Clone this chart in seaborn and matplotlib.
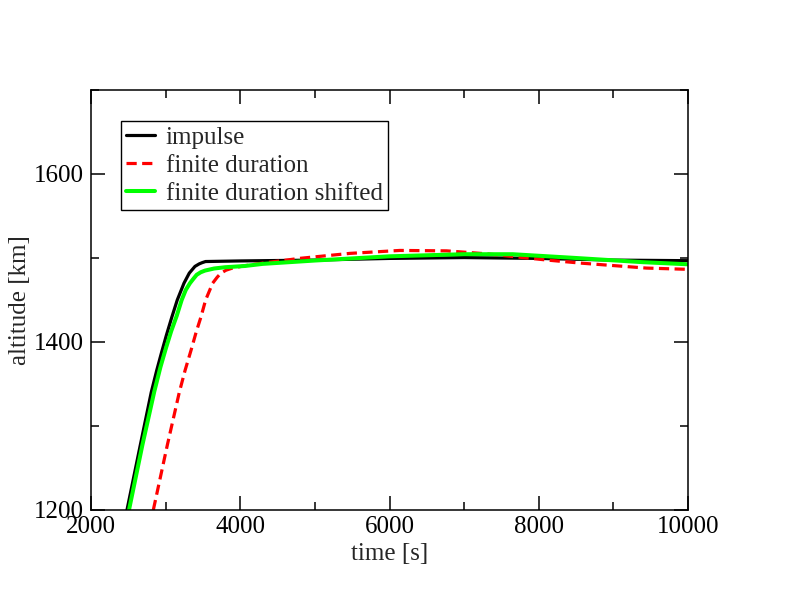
import numpy as np
import pandas as pd
import matplotlib
matplotlib.use("Agg")
import matplotlib.pyplot as plt
import seaborn as sns
from matplotlib.ticker import MultipleLocator

impulse_t = [2482, 2660, 2807, 2880, 2947, 3010, 3081, 3156, 3246, 3317, 3393,
             3450, 3491, 3535, 4000, 5000, 6000, 7000, 8000, 9000, 10000]
impulse_h = [1200, 1277, 1340, 1366, 1388, 1408, 1429, 1450, 1470, 1482, 1490,
             1493, 1494.5, 1495.8, 1496.5, 1497.5, 1499.5, 1500.5, 1499.5, 1497.5, 1496.8]

finite_t = [2835, 3022, 3183, 3260, 3340, 3410, 3474, 3536, 3630, 3690, 3741,
            3810, 3885, 4040, 4304, 4800, 5470, 6139, 6765, 7300, 8105, 8550,
            9444, 10000]
finite_h = [1200, 1277, 1340, 1366, 1390, 1412, 1430, 1450, 1470, 1477, 1482,
            1485.5, 1487.7, 1490.5, 1494, 1499.6, 1505.5, 1509, 1508.5, 1505,
            1497.6, 1494, 1488, 1486.5]

shifted_t = [2509, 2690, 2848, 2930, 3005, 3075, 3148, 3215, 3270, 3326, 3370,
             3416, 3470, 3527, 3650, 3795, 4063, 4300, 5000, 6000, 7000, 7650,
             8500, 9400, 10000]
shifted_h = [1200, 1278, 1341, 1370, 1393, 1413, 1431, 1450, 1462, 1470, 1475,
             1480, 1483, 1485, 1487.5, 1489, 1490.5, 1493, 1497, 1502, 1504.5,
             1504.5, 1500, 1495, 1492.5]

labels = ["impulse", "finite duration", "finite duration shifted"]

df = pd.concat([
    pd.DataFrame({"t": impulse_t, "h": impulse_h, "series": labels[0]}),
    pd.DataFrame({"t": finite_t, "h": finite_h, "series": labels[1]}),
    pd.DataFrame({"t": shifted_t, "h": shifted_h, "series": labels[2]}),
], ignore_index=True)

sns.set_style("ticks")
plt.rcParams["font.family"] = ["Liberation Serif", "DejaVu Serif"]

fig = plt.figure(figsize=(8, 6), dpi=100)
ax = fig.add_axes([91/800, 1 - 510/600, 597/800, 420/600])

palette = {labels[0]: "#000000", labels[1]: "#ff0000", labels[2]: "#00ff00"}
sns.lineplot(data=df, x="t", y="h", hue="series", palette=palette, sort=False,
             estimator=None, ax=ax, legend=False)

lines = ax.get_lines()
lines[0].set_linewidth(2.3)
lines[1].set_linewidth(2.3)
lines[1].set_dashes([3.2, 1.7])
lines[2].set_linewidth(2.9)
for ln in lines:
    ln.set_solid_joinstyle("round")

ax.set_xlim(2000, 10000)
ax.set_ylim(1200, 1700)
ax.xaxis.set_major_locator(MultipleLocator(2000))
ax.xaxis.set_minor_locator(MultipleLocator(1000))
ax.yaxis.set_major_locator(MultipleLocator(200))
ax.yaxis.set_minor_locator(MultipleLocator(100))
ax.tick_params(which="both", direction="in", top=True, right=True,
               labelsize=18, width=1.1, colors="black")
ax.tick_params(axis="x", pad=4)
ax.tick_params(axis="y", pad=5)
ax.tick_params(which="major", length=10)
ax.tick_params(which="minor", length=6)
for s in ax.spines.values():
    s.set_linewidth(1.1)
    s.set_color("black")

ax.set_xlabel("time [s]", fontsize=18, labelpad=4)
ax.set_ylabel("altitude [km]", fontsize=18, labelpad=2)

leg = ax.legend(lines, labels, loc="upper left", bbox_to_anchor=(0.05, 0.926),
                borderaxespad=0, fontsize=18, frameon=True, fancybox=False,
                handlelength=1.15, handletextpad=0.45, borderpad=0.2,
                labelspacing=0.22)
leg.get_frame().set_edgecolor("black")
leg.get_frame().set_linewidth(1.0)
leg.get_frame().set_alpha(1)

fig.savefig("out.png", dpi=100)
